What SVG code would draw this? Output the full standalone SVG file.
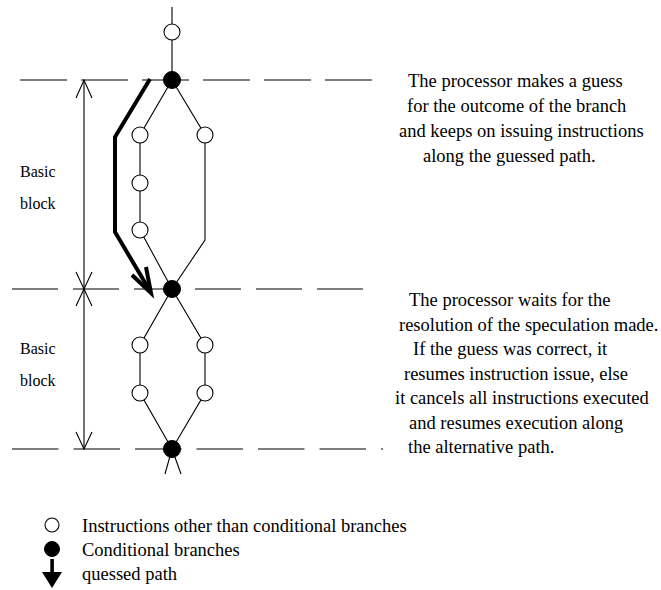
<svg xmlns="http://www.w3.org/2000/svg" width="661" height="590" viewBox="0 0 661 590">
  <style>
    .edge { stroke: #000; stroke-width: 1.1; fill: none; }
    .dash { stroke: #555; stroke-width: 1.4; fill: none; }
    .dim { stroke: #000; stroke-width: 1.1; fill: none; }
    .guess { stroke: #000; stroke-width: 4; fill: none; stroke-linejoin: miter; }
    .instr { fill: #fff; stroke: #000; stroke-width: 1.1; }
    .branch { fill: #000; stroke: #000; stroke-width: 1; }
    text { font-family: "Liberation Serif", "Times New Roman", serif; fill: #000; }
    .note { font-size: 18.5px; }
    .lbl { font-size: 16px; }
  </style>

  <!-- block boundaries -->
  <g id="boundaries">
    <line class="dash" x1="20" y1="80" x2="373" y2="80" stroke-dasharray="47 14"/>
    <line class="dash" x1="12" y1="289" x2="364" y2="289" stroke-dasharray="46 15"/>
    <line class="dash" x1="12" y1="449" x2="383" y2="449" stroke-dasharray="46.5 15"/>
  </g>

  <!-- basic block extents -->
  <g id="dimensions">
    <line class="dim" x1="84" y1="80" x2="84" y2="289"/>
    <polyline class="dim" points="76,98 84,80 92,98"/>
    <polyline class="dim" points="76,272 84,289 92,272"/>
    <line class="dim" x1="84" y1="289" x2="84" y2="449"/>
    <polyline class="dim" points="76,306 84,289 92,306"/>
    <polyline class="dim" points="76,432 84,449 92,432"/>
  </g>

  <!-- control-flow edges -->
  <g id="connectors">
    <line class="edge" x1="172" y1="7" x2="172" y2="80"/>
    <polyline class="edge" points="172,80 140,135 140,230 172,289"/>
    <polyline class="edge" points="172,80 205,135 205,240 172,289"/>
    <polyline class="edge" points="172,289 140,345 140,393 172,449"/>
    <polyline class="edge" points="172,289 205,345 205,393 172,449"/>
    <line class="edge" x1="172" y1="449" x2="165" y2="474"/>
    <line class="edge" x1="172" y1="449" x2="181" y2="474"/>
  </g>

  <!-- predicted path -->
  <g id="guessed-path">
    <polyline class="guess" points="150,79 115,137 115,232 150,291"/>
    <polyline class="guess" stroke-width="3.2" points="132,275 151,293 146,267"/>
  </g>

  <!-- nodes -->
  <g id="n-entry"><circle class="instr" cx="172" cy="32" r="8"/></g>
  <g id="n-branch1"><circle class="branch" cx="172" cy="80" r="8.5"/></g>
  <g id="n-a1"><circle class="instr" cx="140" cy="135" r="8"/></g>
  <g id="n-a2"><circle class="instr" cx="140" cy="183" r="8"/></g>
  <g id="n-a3"><circle class="instr" cx="140" cy="230" r="8"/></g>
  <g id="n-b1"><circle class="instr" cx="205" cy="135" r="8"/></g>
  <g id="n-branch2"><circle class="branch" cx="172" cy="289" r="8.5"/></g>
  <g id="n-c1"><circle class="instr" cx="140" cy="345" r="8"/></g>
  <g id="n-c2"><circle class="instr" cx="140" cy="393" r="8"/></g>
  <g id="n-d1"><circle class="instr" cx="205" cy="345" r="8"/></g>
  <g id="n-d2"><circle class="instr" cx="205" cy="393" r="8"/></g>
  <g id="n-branch3"><circle class="branch" cx="172" cy="449" r="8.5"/></g>

  <!-- block labels -->
  <g id="labels">
    <text class="lbl" x="20" y="177">Basic</text>
    <text class="lbl" x="20" y="209">block</text>
    <text class="lbl" x="20" y="354">Basic</text>
    <text class="lbl" x="20" y="386">block</text>
  </g>

  <!-- explanations -->
  <g id="note-guess" class="note">
    <text x="408" y="87">The processor makes a guess</text>
    <text x="407" y="112">for the outcome of the branch</text>
    <text x="399" y="137">and keeps on issuing instructions</text>
    <text x="423" y="162">along the guessed path.</text>
  </g>
  <g id="note-resolve" class="note">
    <text x="409" y="306">The processor waits for the</text>
    <text x="399" y="330.5">resolution of the speculation made.</text>
    <text x="413" y="355">If the guess was correct, it</text>
    <text x="404" y="379.5">resumes instruction issue, else</text>
    <text x="395" y="404">it cancels all instructions executed</text>
    <text x="409" y="428.5">and resumes execution along</text>
    <text x="408" y="453">the alternative path.</text>
  </g>

  <!-- legend -->
  <g id="legend">
    <circle class="instr" cx="52" cy="525" r="7"/>
    <circle class="branch" cx="52" cy="549" r="7.5"/>
    <rect x="50.3" y="559" width="3.6" height="14" fill="#000"/>
    <polygon points="42,572 62,572 52,588" fill="#000"/>
    <text class="note" x="82" y="532">Instructions other than conditional branches</text>
    <text class="note" x="82" y="556">Conditional branches</text>
    <text class="note" x="82" y="580">quessed path</text>
  </g>
</svg>
